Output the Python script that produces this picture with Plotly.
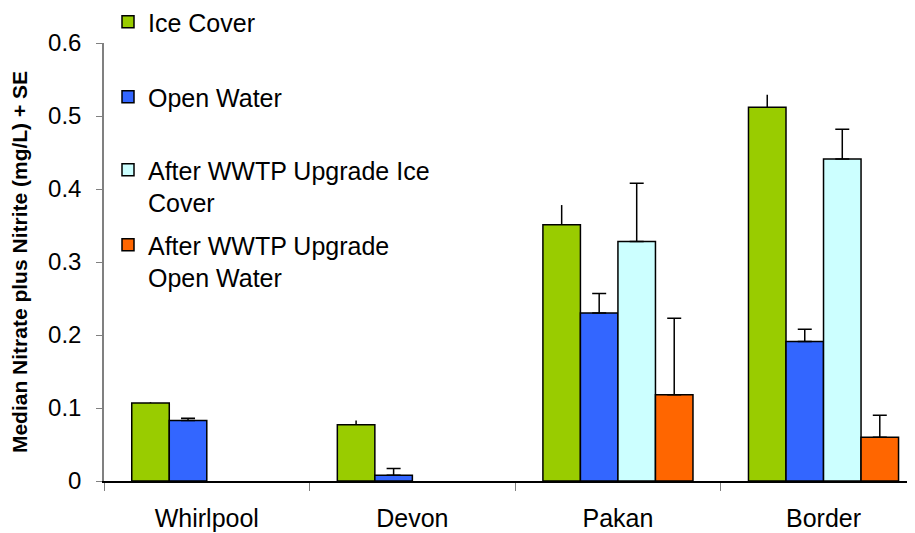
import plotly.graph_objects as go

sites = ["Whirlpool", "Devon", "Pakan", "Border"]
series_names = ["Ice Cover", "Open Water", "After WWTP Upgrade Ice<br>Cover", "After WWTP Upgrade<br>Open Water"]
ice_cover = [0.107, 0.077, 0.351, 0.512]
ice_cover_se = [0.001, 0.006, 0.027, 0.017]
open_water = [0.083, 0.008, 0.230, 0.191]
open_water_se = [0.003, 0.009, 0.027, 0.017]
after_ice = [None, None, 0.328, 0.441]
after_ice_se = [0, 0, 0.080, 0.041]
after_open = [None, None, 0.118, 0.060]
after_open_se = [0, 0, 0.105, 0.030]
colors = ["#99CC00", "#3366FF", "#CCFFFF", "#FF6600"]
y_ticks = [0, 0.1, 0.2, 0.3, 0.4, 0.5, 0.6]

FONT = "Liberation Sans, Arial, sans-serif"
values = [ice_cover, open_water, after_ice, after_open]
ses = [ice_cover_se, open_water_se, after_ice_se, after_open_se]
capw = [0, 7, 7, 7]
legend_ids = ["legend", "legend2", "legend3", "legend4"]

# figure geometry (page body adds 8px offset)
W, H = 907, 533
ML, MR, MT, MB = 96, 0, 35, 60
PW, PH = W - ML - MR, H - MT - MB
legend_tops = [-9, 66, 139, 214]  # figure px
legend_left = 100

fig = go.Figure()
for i in range(4):
    fig.add_trace(go.Bar(
        x=sites, y=values[i], name=series_names[i],
        marker=dict(color=colors[i], line=dict(color="black", width=1.5)),
        error_y=dict(type="data", symmetric=False, array=ses[i],
                     arrayminus=[0] * 4, color="black", thickness=1.5, width=capw[i]),
        legend=legend_ids[i],
    ))

layout_legends = {}
for i in range(4):
    layout_legends[legend_ids[i]] = dict(
        x=(legend_left - ML) / PW, y=(MT + PH - legend_tops[i]) / PH,
        xref="paper", yref="paper",
        xanchor="left", yanchor="top", bgcolor="rgba(0,0,0,0)", borderwidth=0,
        font=dict(family=FONT, size=25, color="black"), valign="top",
    )

fig.update_layout(
    width=W, height=H,
    margin=dict(l=ML, r=MR, t=MT, b=MB, autoexpand=False),
    paper_bgcolor="white", plot_bgcolor="white",
    barmode="group", bargap=0.27, bargroupgap=0,
    showlegend=True,
    font=dict(family=FONT, size=24, color="black"),
    xaxis=dict(
        range=[-0.5, 3.445], showline=True, linecolor="black", linewidth=1.5,
        ticks="outside", tickson="boundaries", ticklen=8, tickcolor="#808080",
        tickangle=0, automargin=False, ticklabelstandoff=14,
        tickfont=dict(family=FONT, size=25, color="black"), showgrid=False,
    ),
    yaxis=dict(
        range=[0, 0.6], tickvals=y_ticks, ticktext=["0", "0.1", "0.2", "0.3", "0.4", "0.5", "0.6"],
        showline=True, linecolor="#808080", linewidth=1.5, automargin=False,
        ticks="outside", ticklen=6, tickcolor="#808080", showgrid=False, zeroline=False,
        ticklabelstandoff=10,
        tickfont=dict(family=FONT, size=24, color="black"),
        title=dict(text="<b>Median Nitrate plus Nitrite (mg/L) + SE</b>",
                   font=dict(family=FONT, size=21, color="black")),
    ),
    **layout_legends,
)

fig.write_html("out.html")
